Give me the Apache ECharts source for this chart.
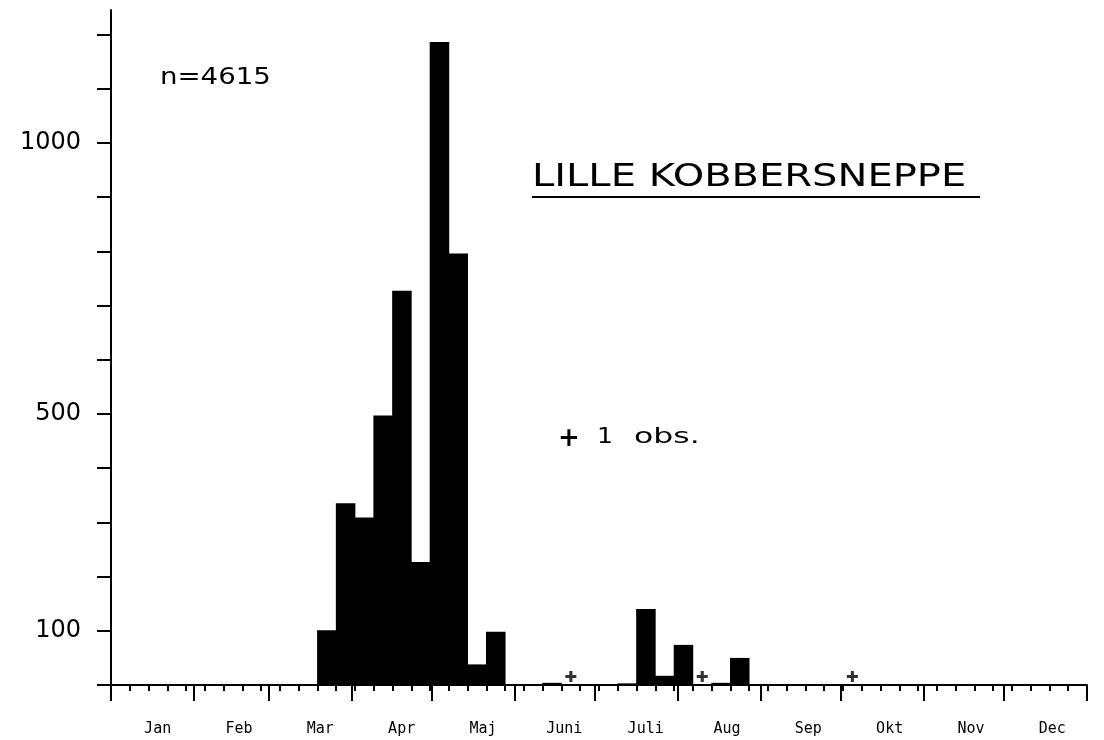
<!DOCTYPE html>
<html>
<head>
<meta charset="utf-8">
<script src="https://cdn.jsdelivr.net/npm/echarts@6/dist/echarts.min.js"></script>
<style>html,body{margin:0;padding:0;background:#fff}#c{width:1104px;height:740px}</style>
</head>
<body>
<div id="c"></div>
<script>
// ---- data ----
const months = ['Jan','Feb','Mar','Apr','Maj','Juni','Juli','Aug','Sep','Okt','Nov','Dec'];
const monthStartDays = [0,31,59,90,120,151,181,212,243,273,304,334];
const weeks = Array.from({length: 52}, (_, i) => 'Uge ' + (i + 1));
// weekly counts (week 1..52)
const weeklyCounts = [
  0,0,0,0,0,0,0,0,0,0,
  0,101,335,309,497,727,227,1186,796,38,
  98,0,0,4,0,0,0,3,140,17,
  74,0,4,50,0,0,0,0,0,0,
  0,0,0,0,0,0,0,0,0,0,
  0,0
];
const singleObsWeeks = [24, 31, 39]; // 0-based week index with exactly 1 observation
const yTickValues = [0,100,200,300,400,500,600,700,800,900,1000,1100,1200];
const yLabelValues = [100, 500, 1000];
const totalN = 4615;
const title = 'LILLE KOBBERSNEPPE';

const days = Array.from({length: 365}, (_, i) => 'd' + i);
const plusPath = 'path://M-1.4,-5 L1.4,-5 L1.4,-1.4 L5,-1.4 L5,1.4 L1.4,1.4 L1.4,5 L-1.4,5 L-1.4,1.4 L-5,1.4 L-5,-1.4 L-1.4,-1.4 Z';

const chart = echarts.init(document.getElementById('c'), null, {renderer: 'canvas'});
const black = '#000';
chart.setOption({
  animation: false,
  backgroundColor: '#fff',
  grid: {left: 111, right: 17, top: 10, bottom: 55, containLabel: false},
  xAxis: [
    {
      type: 'category', data: weeks, position: 'bottom',
      axisLine: {show: true, onZero: false, lineStyle: {color: black, width: 2}},
      axisTick: {show: true, interval: 0, length: 6, lineStyle: {color: black, width: 2}},
      axisLabel: {show: false},
      splitLine: {show: false}
    },
    {
      type: 'category', data: days, position: 'bottom',
      axisLine: {show: false},
      axisTick: {show: true, length: 16, interval: function (idx) { return monthStartDays.indexOf(idx) >= 0; }, lineStyle: {color: black, width: 2}},
      axisLabel: {show: false},
      splitLine: {show: false}
    },
    {
      type: 'category', data: months, position: 'bottom',
      axisLine: {show: false}, axisTick: {show: false},
      axisLabel: {show: true, interval: 0, margin: 37, color: black, fontFamily: 'DejaVu Sans Mono', fontSize: 15, padding: [0, 0, 0, 12]},
      splitLine: {show: false}
    }
  ],
  yAxis: {
    type: 'value', min: 0, max: 1245,
    axisLine: {show: true, lineStyle: {color: black, width: 2}},
    axisTick: {show: true, length: 14, customValues: yTickValues, lineStyle: {color: black, width: 2}},
    axisLabel: {
      show: true, margin: 30, color: black, fontFamily: 'DejaVu Sans', fontSize: 24,
      customValues: yLabelValues,
      formatter: function (v) { return String(v); }
    },
    splitLine: {show: false}
  },
  series: [
    {
      type: 'bar', xAxisIndex: 0, data: weeklyCounts,
      barWidth: '104%', itemStyle: {color: black}, silent: true
    },
    {
      type: 'scatter', xAxisIndex: 0,
      data: singleObsWeeks.map(w => [w, 1]),
      symbol: plusPath, symbolSize: 11, symbolOffset: [0, -8],
      itemStyle: {color: black}, silent: true
    }
  ],
  graphic: [
    {type: 'text', x: 160, y: 78, scaleX: 1.2, style: {text: 'n=' + totalN, fill: black, font: '23px "DejaVu Sans"', textAlign: 'left', textVerticalAlign: 'middle'}},
    {type: 'text', x: 532, y: 178, scaleX: 1.25, style: {text: title, fill: black, font: '32px "DejaVu Sans"', textAlign: 'left', textVerticalAlign: 'middle'}},
    {type: 'line', shape: {x1: 532, y1: 197, x2: 980, y2: 197}, style: {stroke: black, lineWidth: 2}},
    {type: 'text', x: 569, y: 439, style: {text: '+', fill: black, font: 'bold 26px "DejaVu Sans"', textAlign: 'center', textVerticalAlign: 'middle'}},
    {type: 'text', x: 597, y: 438, scaleX: 1.2, style: {text: '1', fill: black, font: '21px "DejaVu Sans"', textAlign: 'left', textVerticalAlign: 'middle'}},
    {type: 'text', x: 634, y: 438, scaleX: 1.5, style: {text: 'obs.', fill: black, font: '21px "DejaVu Sans"', textAlign: 'left', textVerticalAlign: 'middle'}}
  ]
});
</script>
</body>
</html>
